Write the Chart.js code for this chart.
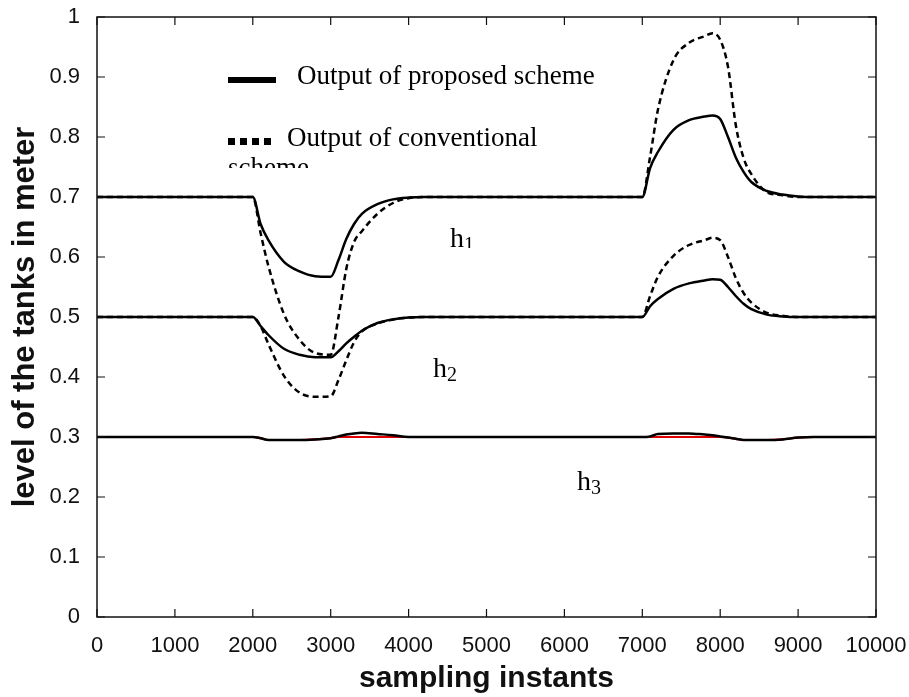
<!DOCTYPE html>
<html>
<head>
<meta charset="utf-8">
<script src="https://cdn.jsdelivr.net/npm/chart.js@4.4.0/dist/chart.umd.min.js"></script>
<style>
  html, body { margin: 0; padding: 0; background: #fff; }
  #wrap { width: 909px; height: 697px; }
</style>
</head>
<body>
<div id="wrap"><canvas id="chart"></canvas></div>
<script>
const samples = [0, 1000, 2000, 2100, 2200, 2400, 2600, 2800, 3000, 3100, 3200, 3300, 3400, 3600, 3800, 4000, 4200, 4500,
  5000, 6000, 7000, 7100, 7200, 7400, 7600, 7800, 7900, 8000, 8100, 8200, 8300, 8400, 8600, 8800, 9000, 9200, 9500, 10000];

const h1Proposed = [0.7, 0.7, 0.7, 0.655, 0.628, 0.592, 0.576, 0.568, 0.567, 0.595, 0.630, 0.655, 0.672, 0.688, 0.696, 0.699, 0.7, 0.7,
  0.7, 0.7, 0.7, 0.748, 0.775, 0.812, 0.828, 0.834, 0.836, 0.830, 0.800, 0.766, 0.742, 0.725, 0.710, 0.704, 0.701, 0.7, 0.7, 0.7];
const h1Conventional = [0.7, 0.7, 0.7, 0.640, 0.585, 0.505, 0.462, 0.440, 0.437, 0.500, 0.580, 0.625, 0.643, 0.672, 0.690, 0.698, 0.7, 0.7,
  0.7, 0.7, 0.7, 0.767, 0.845, 0.928, 0.957, 0.968, 0.973, 0.962, 0.917, 0.820, 0.765, 0.738, 0.708, 0.703, 0.7, 0.7, 0.7, 0.7];

const h2Proposed = [0.5, 0.5, 0.5, 0.485, 0.470, 0.447, 0.437, 0.433, 0.433, 0.443, 0.456, 0.467, 0.477, 0.490, 0.496, 0.499, 0.5, 0.5,
  0.5, 0.5, 0.5, 0.518, 0.530, 0.547, 0.556, 0.561, 0.563, 0.562, 0.550, 0.535, 0.522, 0.513, 0.504, 0.501, 0.5, 0.5, 0.5, 0.5];
const h2Conventional = [0.5, 0.5, 0.5, 0.485, 0.455, 0.402, 0.374, 0.367, 0.368, 0.395, 0.428, 0.458, 0.476, 0.489, 0.496, 0.499, 0.5, 0.5,
  0.5, 0.5, 0.5, 0.535, 0.567, 0.602, 0.620, 0.628, 0.632, 0.628, 0.600, 0.565, 0.540, 0.524, 0.507, 0.502, 0.5, 0.5, 0.5, 0.5];

const h3Proposed = [0.3, 0.3, 0.3, 0.298, 0.295, 0.295, 0.295, 0.296, 0.298, 0.301, 0.304, 0.306, 0.307, 0.305, 0.303, 0.300, 0.3, 0.3,
  0.3, 0.3, 0.3, 0.301, 0.305, 0.306, 0.306, 0.304, 0.303, 0.301, 0.299, 0.297, 0.295, 0.295, 0.295, 0.296, 0.299, 0.3, 0.3, 0.3];
const h3Conventional = [0.3, 0.3, 0.3, 0.298, 0.295, 0.295, 0.295, 0.296, 0.298, 0.300, 0.300, 0.300, 0.300, 0.300, 0.300, 0.300, 0.3, 0.3,
  0.3, 0.3, 0.3, 0.300, 0.300, 0.300, 0.300, 0.300, 0.300, 0.300, 0.299, 0.297, 0.295, 0.295, 0.295, 0.296, 0.299, 0.3, 0.3, 0.3];

const xTicks = [0, 1000, 2000, 3000, 4000, 5000, 6000, 7000, 8000, 9000, 10000];
const yTicks = [0, 0.1, 0.2, 0.3, 0.4, 0.5, 0.6, 0.7, 0.8, 0.9, 1];

const legendLabels = ['Output of proposed scheme', 'Output of conventional', 'scheme'];
const tankLabels = ['h', 'h', 'h'];
const tankSubs = ['1', '2', '3'];

const toPoints = ys => samples.map((s, i) => ({x: s, y: ys[i]}));

const solid = (data, color, width) => ({
  data: toPoints(data),
  borderColor: color || '#000',
  borderWidth: width || 2.5,
  pointRadius: 0,
  cubicInterpolationMode: 'monotone',
  fill: false
});
const dashed = data => Object.assign(solid(data), {borderDash: [6, 4]});

// box with inward ticks on all four sides, like the original plot
const framePlugin = {
  id: 'frame',
  afterDatasetsDraw(chart) {
    const {ctx, chartArea: a, scales} = chart;
    ctx.save();
    ctx.strokeStyle = '#111';
    ctx.lineWidth = 1.5;
    ctx.strokeRect(a.left, a.top, a.right - a.left, a.bottom - a.top);
    ctx.lineWidth = 1.2;
    ctx.beginPath();
    for (const v of xTicks) {
      const x = scales.x.getPixelForValue(v);
      ctx.moveTo(x, a.bottom); ctx.lineTo(x, a.bottom - 8);
      ctx.moveTo(x, a.top); ctx.lineTo(x, a.top + 8);
    }
    for (const v of yTicks) {
      const y = scales.y.getPixelForValue(v);
      ctx.moveTo(a.left, y); ctx.lineTo(a.left + 8, y);
      ctx.moveTo(a.right, y); ctx.lineTo(a.right - 8, y);
    }
    ctx.stroke();
    ctx.restore();
  }
};

const labelPlugin = {
  id: 'labels',
  afterDraw(chart) {
    const ctx = chart.ctx;
    ctx.save();
    ctx.fillStyle = '#000';
    ctx.textBaseline = 'alphabetic';
    ctx.textAlign = 'left';
    ctx.font = '27px "Liberation Serif", "Times New Roman", serif';

    // legend
    ctx.fillRect(228, 77, 48, 6);
    ctx.fillText(legendLabels[0], 297, 84);
    for (let i = 0; i < 4; i++) ctx.fillRect(228 + i * 12, 138, 7, 7);
    ctx.fillText(legendLabels[1], 287, 146);
    ctx.save();
    ctx.beginPath();
    ctx.rect(150, 150, 400, 18);
    ctx.clip();
    ctx.fillText(legendLabels[2], 228, 176);
    ctx.restore();

    // tank labels
    const spots = [[450, 247, 248], [433, 377, 999], [577, 490, 999]];
    spots.forEach(([x, y, clipY], i) => {
      ctx.save();
      ctx.beginPath();
      ctx.rect(0, 0, 909, clipY);
      ctx.clip();
      ctx.font = '28px "Liberation Serif", "Times New Roman", serif';
      ctx.fillText(tankLabels[i], x, y);
      const w = ctx.measureText(tankLabels[i]).width;
      ctx.font = '20px "Liberation Serif", "Times New Roman", serif';
      ctx.fillText(tankSubs[i], x + w, y + 4);
      ctx.restore();
    });
    ctx.restore();
  }
};

const ctx = document.getElementById('chart').getContext('2d');

// dataset 0 is painted on top, so the red h3 trace goes last (underneath)
const chart = new Chart(ctx, {
  type: 'line',
  data: {
    datasets: [
      solid(h1Proposed),
      dashed(h1Conventional),
      solid(h2Proposed),
      dashed(h2Conventional),
      solid(h3Proposed),
      solid(h3Conventional, '#e00000', 2.2)
    ]
  },
  options: {
    responsive: true,
    maintainAspectRatio: false,
    animation: false,
    layout: {
      padding: {left: 0, right: 33, top: 17, bottom: 0}
    },
    plugins: {
      legend: {display: false},
      tooltip: {enabled: false}
    },
    scales: {
      x: {
        type: 'linear',
        min: 0,
        max: 10000,
        afterBuildTicks: s => { s.ticks = xTicks.map(v => ({value: v})); },
        afterFit: s => { s.height = 80; s.paddingLeft = 0; s.paddingRight = 0; },
        grid: {display: false},
        border: {display: false},
        ticks: {
          padding: 8,
          maxRotation: 0,
          color: '#111',
          font: {family: '"Liberation Sans", Arial, sans-serif', size: 22},
          callback: v => String(v)
        },
        title: {
          display: true,
          text: 'sampling instants',
          color: '#111',
          padding: {top: 0, bottom: 0},
          font: {family: '"Liberation Sans", Arial, sans-serif', size: 30, weight: 'bold'}
        }
      },
      y: {
        min: 0,
        max: 1,
        afterBuildTicks: s => { s.ticks = yTicks.map(v => ({value: v})); },
        afterFit: s => { s.width = 97; s.paddingTop = 0; s.paddingBottom = 0; },
        grid: {display: false},
        border: {display: false},
        ticks: {
          padding: 9,
          color: '#111',
          font: {family: '"Liberation Sans", Arial, sans-serif', size: 22},
          callback: v => String(Math.round(v * 10) / 10)
        },
        title: {
          display: true,
          text: 'level of the tanks in meter',
          color: '#111',
          padding: {top: 7, bottom: 0},
          font: {family: '"Liberation Sans", Arial, sans-serif', size: 31, weight: 'bold'}
        }
      }
    }
  },
  plugins: [framePlugin, labelPlugin]
});
</script>
</body>
</html>
